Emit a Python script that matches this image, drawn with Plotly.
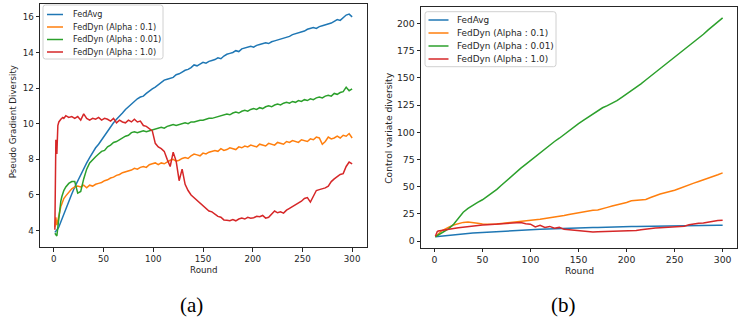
import plotly.graph_objects as go

# ---------------- data: panel (a) Pseudo Gradient Diversity ----------------
rounds_a = list(range(1, 11)) + list(range(12, 301, 3))

fedavg_a = [3.9, 3.95, 4.0, 4.1, 4.2, 4.35, 4.5, 4.6, 4.75, 4.9,
            5.15, 5.6, 6.05, 6.45, 6.8, 7.15, 7.5, 7.8, 8.1, 8.4,
            8.65, 8.85, 9.1, 9.35, 9.6, 9.85, 10.05, 10.25, 10.4, 10.6,
            10.8, 10.95, 11.15, 11.3, 11.4, 11.5, 11.55, 11.7, 11.85, 11.95,
            12.05, 12.2, 12.3, 12.45, 12.5, 12.55, 12.6, 12.75, 12.8, 12.9,
            13.0, 13.05, 13.15, 13.3, 13.25, 13.35, 13.45, 13.4, 13.5, 13.55,
            13.6, 13.7, 13.65, 13.8, 13.9, 13.95, 14.0, 14.1, 14.05, 14.2,
            14.25, 14.3, 14.35, 14.3, 14.4, 14.45, 14.5, 14.55, 14.5, 14.6,
            14.65, 14.7, 14.75, 14.8, 14.85, 14.9, 15.0, 15.05, 15.1, 15.15,
            15.2, 15.3, 15.35, 15.4, 15.35, 15.45, 15.5, 15.55, 15.6, 15.65,
            15.75, 15.85, 15.8, 15.95, 16.1, 16.15, 16.0]

dyn01_a = [4.2, 4.75, 4.3, 4.6, 4.9, 5.15, 5.35, 5.5, 5.65, 5.8,
           5.95, 6.15, 6.35, 6.45, 6.5, 6.45, 6.55, 6.4, 6.55, 6.5,
           6.6, 6.65, 6.7, 6.8, 6.85, 6.95, 7.0, 7.1, 7.15, 7.25,
           7.3, 7.35, 7.4, 7.5, 7.45, 7.55, 7.6, 7.55, 7.7, 7.75,
           7.8, 7.7, 7.8, 7.75, 7.85, 7.95, 8.0, 7.9, 7.95, 8.05,
           8.1, 8.05, 8.2, 8.3, 8.25, 8.2, 8.35, 8.3, 8.4, 8.45,
           8.5, 8.45, 8.6, 8.5, 8.55, 8.65, 8.6, 8.55, 8.7, 8.65,
           8.75, 8.7, 8.8, 8.75, 8.7, 8.85, 8.8, 8.75, 8.9, 8.85,
           8.8, 8.95, 8.9, 8.85, 9.0, 8.95, 9.05, 9.0, 8.95, 9.1,
           9.05, 9.0, 9.15, 9.1, 9.25, 9.2, 8.85, 9.0, 9.25, 9.15,
           9.2, 9.3, 9.2, 9.35, 9.3, 9.45, 9.2]

dyn001_a = [3.85, 3.8, 3.7, 4.2, 4.8, 5.3, 5.65, 5.9, 6.1, 6.25,
            6.45, 6.65, 6.75, 6.75, 6.1, 6.2, 6.9, 7.45, 7.8, 8.0,
            8.15, 8.3, 8.45, 8.5, 8.7, 8.8, 8.95, 9.0, 9.1, 9.2,
            9.3, 9.35, 9.5, 9.55, 9.5, 9.55, 9.6, 9.55, 9.6, 9.65,
            9.7, 9.75, 9.8, 9.75, 9.85, 9.9, 9.95, 9.9, 9.95, 10.0,
            10.05, 10.0, 10.1, 10.1, 10.15, 10.2, 10.2, 10.25, 10.3, 10.3,
            10.35, 10.4, 10.45, 10.5, 10.55, 10.5, 10.6, 10.65, 10.6, 10.7,
            10.75, 10.7, 10.8, 10.85, 10.8, 10.9, 10.85, 10.95, 11.0, 10.95,
            11.05, 11.1, 11.05, 11.15, 11.2, 11.15, 11.25, 11.2, 11.3, 11.25,
            11.35, 11.3, 11.4, 11.35, 11.45, 11.5, 11.45, 11.55, 11.6, 11.55,
            11.7, 11.65, 11.75, 11.8, 12.05, 11.85, 11.95]

dyn1_a = [4.05, 9.1, 8.3, 9.9, 10.1, 10.2, 10.25, 10.3, 10.35, 10.3,
          10.45, 10.35, 10.4, 10.3, 10.4, 10.2, 10.55, 10.3, 10.2, 10.3,
          10.25, 10.35, 10.2, 10.3, 10.25, 10.15, 10.3, 10.05, 10.2, 10.1,
          10.05, 10.2, 10.1, 10.25, 10.1, 10.15, 9.9, 9.85, 9.7, 9.6,
          8.9, 8.7, 8.6, 8.45, 8.0, 7.6, 8.4, 7.9, 6.8, 7.45,
          6.6, 6.25, 6.0, 5.85, 5.65, 5.5, 5.4, 5.2, 5.1, 5.05,
          4.9, 4.8, 4.75, 4.6, 4.58, 4.55, 4.62, 4.55, 4.65, 4.7,
          4.65, 4.75, 4.7, 4.72, 4.8, 4.78, 4.85, 4.7, 4.75, 4.9,
          5.1, 5.0, 5.05, 4.98, 5.15, 5.25, 5.35, 5.45, 5.55, 5.65,
          5.8, 5.85, 5.6, 5.9, 6.25, 6.3, 6.35, 6.4, 6.5, 6.75,
          6.9, 7.0, 7.15, 7.2, 7.6, 7.85, 7.75]

# ---------------- data: panel (b) Control variate diversity ----------------
rounds_b = list(range(1, 11)) + list(range(15, 301, 5))

fedavg_b = [4.0, 4.1, 4.2, 4.3, 4.4, 4.5, 4.6, 4.7, 4.8, 4.9,
            5.3, 5.8, 6.2, 6.6, 7.0, 7.4, 7.7, 8.0, 8.3, 8.6,
            8.9, 9.2, 9.4, 9.7, 9.9, 10.1, 10.3, 10.5, 10.7, 10.9,
            11.1, 11.2, 11.4, 11.6, 11.7, 11.9, 12.0, 12.1, 12.3, 12.4,
            12.5, 12.6, 12.8, 12.9, 13.0, 13.1, 13.2, 13.3, 13.4, 13.5,
            13.6, 13.7, 13.8, 13.85, 13.9, 14.0, 14.05, 14.1, 14.2, 14.25,
            14.3, 14.35, 14.4, 14.45, 14.5, 14.55, 14.6, 14.6]

dyn01_b = [4.0, 5.0, 6.0, 7.0, 7.8, 8.5, 9.1, 9.7, 10.2, 10.7,
           12.8, 14.8, 16.2, 17.2, 17.5, 17.2, 16.5, 15.8, 15.4, 15.5,
           15.8, 16.2, 16.6, 17.2, 17.8, 18.4, 18.8, 19.1, 19.3, 20.0,
           20.8, 21.4, 22.0, 22.8, 23.6, 24.5, 25.3, 26.0, 27.2, 28.0,
           28.3, 28.6, 29.5, 31.0, 32.3, 33.2, 34.0, 35.5, 37.0, 37.5,
           37.8, 38.3, 40.0, 42.0, 43.3, 44.5, 45.5, 46.8, 48.4, 50.2,
           51.8, 53.3, 54.8, 56.2, 57.7, 59.3, 61.0, 62.7]

dyn001_b = [4.0, 4.5, 5.0, 5.5, 6.0, 6.5, 7.0, 7.5, 8.0, 8.6,
            11.5, 15.5, 21.5, 26.5, 30.0, 33.0, 35.5, 38.0, 41.0, 44.0,
            47.5, 51.5, 55.5, 59.5, 63.5, 67.0, 70.5, 74.0, 77.5, 81.0,
            85.0, 88.5, 91.5, 94.5, 98.0, 101.5, 104.5, 108.0, 111.0, 114.0,
            117.0, 120.0, 122.5, 124.5, 126.5, 129.0, 132.0, 135.0, 138.0, 141.0,
            144.5, 148.0, 151.5, 155.0, 158.5, 162.0, 165.0, 168.5, 172.0, 175.5,
            179.0, 182.5, 186.5, 190.0, 194.0, 197.5, 201.5, 205.0]

dyn1_b = [4.5, 7.0, 8.8, 9.3, 9.4, 9.6, 9.8, 10.0, 10.1, 10.3,
          11.0, 11.6, 12.3, 12.9, 13.4, 13.9, 14.3, 14.7, 15.0, 15.3,
          15.6, 15.9, 16.2, 16.5, 16.8, 17.1, 16.0, 15.6, 13.0, 14.5,
          12.5, 13.5, 11.8, 12.6, 10.8, 10.3, 9.9, 9.6, 9.3, 8.9,
          8.4, 8.7, 8.8, 9.0, 8.9, 9.2, 9.4, 9.3, 9.6, 9.8,
          10.5, 11.2, 11.6, 12.0, 12.3, 12.6, 12.8, 13.0, 13.4, 13.7,
          15.0, 15.8, 16.3, 16.6, 17.5, 18.6, 18.9, 19.1]

names = ["FedAvg", "FedDyn (Alpha : 0.1)", "FedDyn (Alpha : 0.01)", "FedDyn (Alpha : 1.0)"]
colors = ["#1f77b4", "#ff7f0e", "#2ca02c", "#d62728"]

x_ticks = [0, 50, 100, 150, 200, 250, 300]
y_ticks_a = [4, 6, 8, 10, 12, 14, 16]
y_ticks_b = [0, 25, 50, 75, 100, 125, 150, 175, 200]

W, H = 738, 326
TXT = "#262626"


def px(x):
    return x / W


def py(y):
    return 1 - y / H


fig = go.Figure()
for name, col, ys in zip(names, colors, [fedavg_a, dyn01_a, dyn001_a, dyn1_a]):
    fig.add_trace(go.Scatter(x=rounds_a, y=ys, mode="lines", name=name,
                             line=dict(color=col, width=1.5),
                             xaxis="x", yaxis="y", showlegend=False))
for name, col, ys in zip(names, colors, [fedavg_b, dyn01_b, dyn001_b, dyn1_b]):
    fig.add_trace(go.Scatter(x=rounds_b, y=ys, mode="lines", name=name,
                             line=dict(color=col, width=1.5),
                             xaxis="x2", yaxis="y2", showlegend=False))


def axis_style(size):
    return dict(showline=True, linecolor=TXT, linewidth=1, mirror=True,
                ticks="outside", ticklen=3.5, tickwidth=1, tickcolor=TXT,
                showgrid=False, zeroline=False, automargin=False,
                tickfont=dict(family="DejaVu Sans", size=size, color=TXT))


# ---- matplotlib-style legend boxes (one per panel), built from names/colors ----
shapes, annotations = [], []


def add_legend(box, row0, step, sample, text_x, fsize):
    x0, y0, x1, y1 = box
    r = 2.5
    path = (f"M {px(x0 + r)} {py(y0)} L {px(x1 - r)} {py(y0)} "
            f"Q {px(x1)} {py(y0)} {px(x1)} {py(y0 + r)} L {px(x1)} {py(y1 - r)} "
            f"Q {px(x1)} {py(y1)} {px(x1 - r)} {py(y1)} L {px(x0 + r)} {py(y1)} "
            f"Q {px(x0)} {py(y1)} {px(x0)} {py(y1 - r)} L {px(x0)} {py(y0 + r)} "
            f"Q {px(x0)} {py(y0)} {px(x0 + r)} {py(y0)} Z")
    shapes.append(dict(type="path", path=path, xref="paper", yref="paper", layer="above",
                       line=dict(color="#d0d0d0", width=1),
                       fillcolor="rgba(255,255,255,0.8)"))
    for i, (name, col) in enumerate(zip(names, colors)):
        yc = row0 + i * step
        shapes.append(dict(type="line", xref="paper", yref="paper", layer="above",
                           x0=px(sample[0]), x1=px(sample[1]), y0=py(yc), y1=py(yc),
                           line=dict(color=col, width=1.5)))
        annotations.append(dict(text=name, x=px(text_x), y=py(yc), xref="paper", yref="paper",
                                xanchor="left", yanchor="middle", showarrow=False,
                                font=dict(family="DejaVu Sans", size=fsize, color=TXT)))


add_legend((43, 5, 163, 59), 14.5, 12.5, (47, 63), 70.5, 8.1)
add_legend((425, 11.7, 556, 66.7), 20, 13, (428.5, 448.5), 454.5, 8.9)

annotations += [
    dict(text="Round", x=0.5, xref="x domain", y=py(270), yref="paper",
         showarrow=False, font=dict(family="DejaVu Sans", size=8.7, color=TXT),
         xanchor="center", yanchor="middle"),
    dict(text="Round", x=0.5, xref="x2 domain", y=py(270), yref="paper",
         showarrow=False, font=dict(family="DejaVu Sans", size=9.2, color=TXT),
         xanchor="center", yanchor="middle"),
    dict(text="Pseudo Gradient Diversity", x=px(13.3), xref="paper", y=py(122), yref="paper",
         textangle=-90, showarrow=False, font=dict(family="DejaVu Sans", size=8.7, color=TXT),
         xanchor="center", yanchor="middle"),
    dict(text="Control variate diversity", x=px(388.5), xref="paper", y=0.5, yref="y2 domain",
         textangle=-90, showarrow=False, font=dict(family="DejaVu Sans", size=9.2, color=TXT),
         xanchor="center", yanchor="middle"),
    dict(text="(a)", x=px(191), xref="paper", y=py(305), yref="paper",
         showarrow=False, font=dict(family="Liberation Serif", size=21, color="black"),
         xanchor="center", yanchor="middle"),
    dict(text="(b)", x=px(563), xref="paper", y=py(305), yref="paper",
         showarrow=False, font=dict(family="Liberation Serif", size=21, color="black"),
         xanchor="center", yanchor="middle"),
]

fig.update_layout(
    width=W, height=H,
    margin=dict(l=0, r=0, t=0, b=0),
    paper_bgcolor="white", plot_bgcolor="white",
    font=dict(family="DejaVu Sans", size=9, color=TXT),
    showlegend=False,
    xaxis=dict(domain=[px(40), px(367)], range=[-13.95, 314.95],
               tickvals=x_ticks, anchor="y", **axis_style(8.7)),
    yaxis=dict(domain=[py(247), py(4)], range=[3.08, 16.72],
               tickvals=y_ticks_a, anchor="x", **axis_style(8.7)),
    xaxis2=dict(domain=[px(421), px(737)], range=[-13.95, 314.95],
                tickvals=x_ticks, anchor="y2", **axis_style(9.3)),
    yaxis2=dict(domain=[py(247.7), py(7)], range=[-6.05, 215.05],
                tickvals=y_ticks_b, anchor="x2", **axis_style(9.3)),
    shapes=shapes,
    annotations=annotations,
)

fig.write_html("out.html",
               config={"displayModeBar": False},
               post_script="document.body.style.margin='0';document.body.style.overflow='hidden';")
